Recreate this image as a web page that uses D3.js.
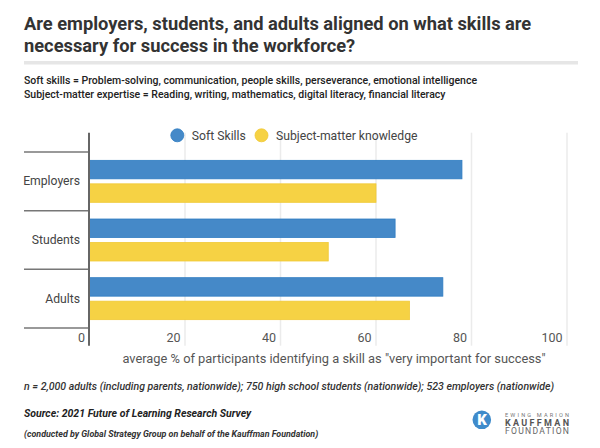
<!DOCTYPE html>
<html><head><meta charset="utf-8">
<script src="https://cdn.jsdelivr.net/npm/d3@7"></script>
<style>
html,body{margin:0;padding:0;background:#fff;}
svg{display:block;font-family:Roboto,"Noto Sans",sans-serif;}
</style></head>
<body><svg id="chart" width="600" height="448"></svg>
<script>
const categories = ["Employers", "Students", "Adults"];
const seriesNames = ["Soft Skills", "Subject-matter knowledge"];
const softSkills = [78, 64, 74];
const subjectMatter = [60, 50, 67];
const tickValues = [0, 20, 40, 60, 80, 100];
const titleLines = ["Are employers, students, and adults aligned on what skills are",
                    "necessary for success in the workforce?"];
const subtitleLines = ["Soft skills = Problem-solving, communication, people skills, perseverance, emotional intelligence",
                       "Subject-matter expertise = Reading, writing, mathematics, digital literacy, financial literacy"];
const axisTitle = "average % of participants identifying a skill as \"very important for success\"";
const noteText = "n = 2,000 adults (including parents, nationwide); 750 high school students (nationwide); 523 employers (nationwide)";
const sourceText = "Source: 2021 Future of Learning Research Survey";
const conductedText = "(conducted by Global Strategy Group on behalf of the Kauffman Foundation)";

const colors = ["#4589c8", "#f6d244"];
const strokes = ["#2f7cc2", "#f0c935"];

const svg = d3.select("#chart");

// Title
svg.append("g").selectAll("text").data(titleLines).join("text")
  .attr("x", 24).attr("y", (d, i) => 29.5 + i * 22.6)
  .attr("font-size", 18.3).attr("font-weight", 700).attr("fill", "#333")
  .text(d => d);

svg.append("rect").attr("x", 24).attr("y", 61).attr("width", 554).attr("height", 3.5).attr("fill", "#e6e6e6");

svg.append("g").selectAll("text").data(subtitleLines).join("text")
  .attr("x", 24).attr("y", (d, i) => 83.5 + i * 14.3)
  .attr("font-size", 10.5).attr("font-weight", 500).attr("fill", "#222")
  .text(d => d);

// Scales
const x = d3.scaleLinear().domain([0, 100]).range([89.5, 567]);
const y = d3.scaleBand().domain(categories).range([152, 328]);
const ySub = d3.scaleBand().domain(seriesNames).range([0, y.bandwidth()]).paddingInner(0.213).paddingOuter(0.355);

const plotTop = 132.7, plotBottom = 345.7;

// gridlines
svg.append("g").selectAll("line").data(tickValues.filter(v => v > 0)).join("line")
  .attr("x1", d => x(d)).attr("x2", d => x(d)).attr("y1", plotTop).attr("y2", plotBottom)
  .attr("stroke", "#ebebeb").attr("stroke-width", 1.5);

// x axis tick labels via d3 axis
const xAxis = d3.axisBottom(x).tickValues(tickValues).tickSize(0).tickPadding(0).tickFormat(d3.format("d"));
const gx = svg.append("g").attr("transform", `translate(0,${plotBottom - 13})`).call(xAxis);
gx.select(".domain").remove();
gx.selectAll("text").attr("text-anchor", "end").attr("dx", -5).attr("dy", 0)
  .attr("y", 9.5).attr("font-size", 12.5).attr("fill", "#555").attr("font-family", "Roboto");

// data
const rows = categories.map((c, i) => ({cat: c, vals: [softSkills[i], subjectMatter[i]]}));
const groups = svg.append("g").selectAll("g").data(rows).join("g")
  .attr("transform", d => `translate(0,${y(d.cat)})`);
groups.selectAll("rect").data(d => d.vals.map((v, j) => ({name: seriesNames[j], v, j}))).join("rect")
  .attr("x", x(0)).attr("y", d => ySub(d.name))
  .attr("width", d => x(d.v) - x(0)).attr("height", ySub.bandwidth())
  .attr("fill", d => colors[d.j]).attr("stroke", d => strokes[d.j]).attr("stroke-width", 0.8);

// y axis: category labels and separator ticks
const yAxis = d3.axisLeft(y).tickSize(0).tickPadding(0);
const gy = svg.append("g").attr("transform", `translate(80,0)`).call(yAxis);
gy.select(".domain").remove();
gy.selectAll("text").attr("font-size", 12.2).attr("fill", "#444").attr("font-family", "Roboto");

const bounds = categories.map(c => y(c)).concat([y(categories[categories.length - 1]) + y.bandwidth()]);
svg.append("g").selectAll("line").data(bounds).join("line")
  .attr("x1", 24).attr("x2", 89).attr("y1", d => d).attr("y2", d => d)
  .attr("stroke", "#777").attr("stroke-width", 1.5);

svg.append("line").attr("x1", 89).attr("x2", 89).attr("y1", plotTop).attr("y2", plotBottom)
  .attr("stroke", "#666").attr("stroke-width", 2);

// legend
const legendX = [177.3, 261.5];
const lg = svg.append("g").selectAll("g").data(seriesNames).join("g")
  .attr("transform", (d, i) => `translate(${legendX[i]},135.3)`);
lg.append("circle").attr("r", 6.5).attr("fill", (d, i) => colors[i]).attr("stroke", (d, i) => strokes[i]).attr("stroke-width", 0.8);
lg.append("text").attr("x", 14.5).attr("y", 4.3).attr("font-size", 12.2).attr("fill", "#444").text(d => d);

// axis title
svg.append("text").attr("x", 334).attr("y", 362.5).attr("text-anchor", "middle")
  .attr("font-size", 12.85).attr("fill", "#555").text(axisTitle);

// footer
svg.append("text").attr("x", 24).attr("y", 389.5).attr("font-size", 10.55).attr("font-style", "italic")
  .attr("font-weight", 500).attr("fill", "#333").text(noteText);
svg.append("text").attr("x", 24).attr("y", 417).attr("font-size", 10.5).attr("font-style", "italic")
  .attr("font-weight", 700).attr("fill", "#222").text(sourceText);
svg.append("text").attr("x", 24).attr("y", 436.5).attr("font-size", 8.9).attr("font-style", "italic")
  .attr("font-weight", 700).attr("fill", "#333").text(conductedText);

// logo
const logo = svg.append("g");
logo.append("circle").attr("cx", 481.8).attr("cy", 419.8).attr("r", 9.3).attr("fill", "#3f8bcb");
logo.append("text").attr("x", 482).attr("y", 425.2).attr("text-anchor", "middle").attr("font-size", 15)
  .attr("font-weight", 900).attr("fill", "#fff").text("K");
logo.append("text").attr("x", 505).attr("y", 416.7).attr("font-size", 5.6)
  .attr("textLength", 64).attr("lengthAdjust", "spacing")
  .attr("fill", "#777").text("EWING MARION");
logo.append("text").attr("x", 505).attr("y", 425.5).attr("font-size", 9).attr("font-weight", 700)
  .attr("textLength", 64).attr("lengthAdjust", "spacing")
  .attr("fill", "#555").text("KAUFFMAN");
logo.append("text").attr("x", 505).attr("y", 434.2).attr("font-size", 8.6)
  .attr("textLength", 64).attr("lengthAdjust", "spacing")
  .attr("fill", "#666").text("FOUNDATION");
</script></body></html>
